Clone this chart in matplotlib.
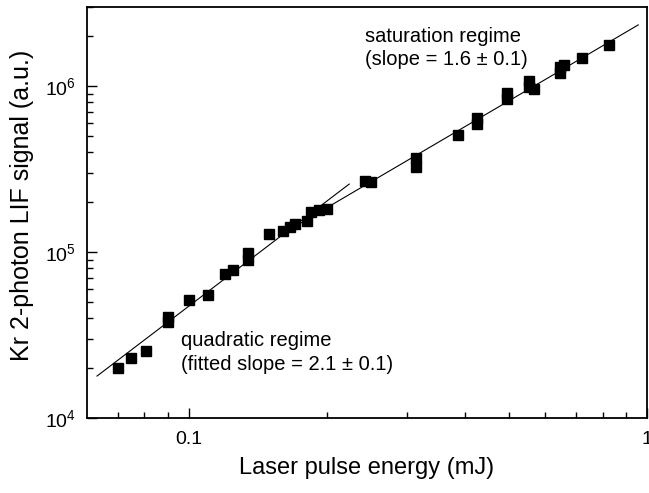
"""Kr 2-photon LIF signal vs laser pulse energy (log-log), with two fitted regimes."""
import matplotlib
matplotlib.use("Agg")
import matplotlib.pyplot as plt
from matplotlib.ticker import FixedLocator, FuncFormatter, NullFormatter

plt.rcParams["font.family"] = ["Liberation Sans", "DejaVu Sans"]
plt.rcParams["mathtext.fontset"] = "custom"
plt.rcParams["mathtext.rm"] = "Liberation Sans"

energy_mj = [0.070, 0.075, 0.0805, 0.090, 0.090, 0.100, 0.110, 0.120, 0.125,
             0.135, 0.135, 0.150, 0.161, 0.166, 0.171, 0.181, 0.185, 0.192,
             0.200, 0.242, 0.250, 0.313, 0.313, 0.386, 0.425, 0.425, 0.494,
             0.494, 0.553, 0.553, 0.567, 0.646, 0.646, 0.660, 0.722, 0.828]
signal = [2.01e4, 2.29e4, 2.54e4, 4.06e4, 3.79e4, 5.12e4, 5.54e4, 7.39e4, 7.78e4,
          9.93e4, 9.00e4, 1.29e5, 1.34e5, 1.42e5, 1.48e5, 1.53e5, 1.75e5, 1.80e5,
          1.815e5, 2.67e5, 2.63e5, 3.71e5, 3.27e5, 5.05e5, 6.40e5, 5.88e5, 9.07e5,
          8.34e5, 1.07e6, 9.86e5, 9.55e5, 1.30e6, 1.20e6, 1.34e6, 1.48e6, 1.76e6]

# fitted lines (end points)
quad_x = [0.0631, 0.224]
quad_y = [1.79e4, 2.57e5]
sat_x = [0.170, 0.957]
sat_y = [1.42e5, 2.34e6]

fig = plt.figure(figsize=(6.49, 4.93), dpi=100)
ax = fig.add_axes([87 / 649, 1 - 418 / 493, 560 / 649, 411 / 493])

ax.plot(quad_x, quad_y, color="black", linewidth=0.8)
ax.plot(sat_x, sat_y, color="black", linewidth=0.8)
ax.plot(energy_mj, signal, linestyle="none", marker="s", markersize=6.8,
        color="black")

ax.set_xscale("log")
ax.set_yscale("log")
ax.set_xlim(0.06, 1.0)
ax.set_ylim(1e4, 3e6)

ax.xaxis.set_major_locator(FixedLocator([0.1, 1.0]))
ax.xaxis.set_major_formatter(FuncFormatter(lambda v, p: "%g" % v))
ax.xaxis.set_minor_locator(FixedLocator([0.07, 0.08, 0.09, 0.2, 0.3, 0.4,
                                         0.5, 0.6, 0.7, 0.8, 0.9]))
ax.xaxis.set_minor_formatter(NullFormatter())

ax.tick_params(which="both", direction="in", top=False, right=False,
               width=1.0, labelsize=14)
ax.tick_params(which="major", length=7)
ax.tick_params(axis="x", which="major", pad=9)
ax.tick_params(axis="y", which="major", pad=8)
ax.tick_params(which="minor", length=4.5)
for s in ax.spines.values():
    s.set_linewidth(1.3)

ax.set_xlabel("Laser pulse energy (mJ)", fontsize=17, labelpad=7)
ax.set_ylabel("Kr 2-photon LIF signal (a.u.)", fontsize=18)
ax.yaxis.set_label_coords(-0.094, 0.518)

ax.text(0.2423, 1.70e6, "saturation regime\n(slope = 1.6 \u00b1 0.1)",
        fontsize=14.5, va="center", ha="left", linespacing=1.3)
ax.text(0.0964, 2.48e4, "quadratic regime\n(fitted slope = 2.1 \u00b1 0.1)",
        fontsize=14.5, va="center", ha="left", linespacing=1.3)

fig.savefig("out.png", dpi=100)
